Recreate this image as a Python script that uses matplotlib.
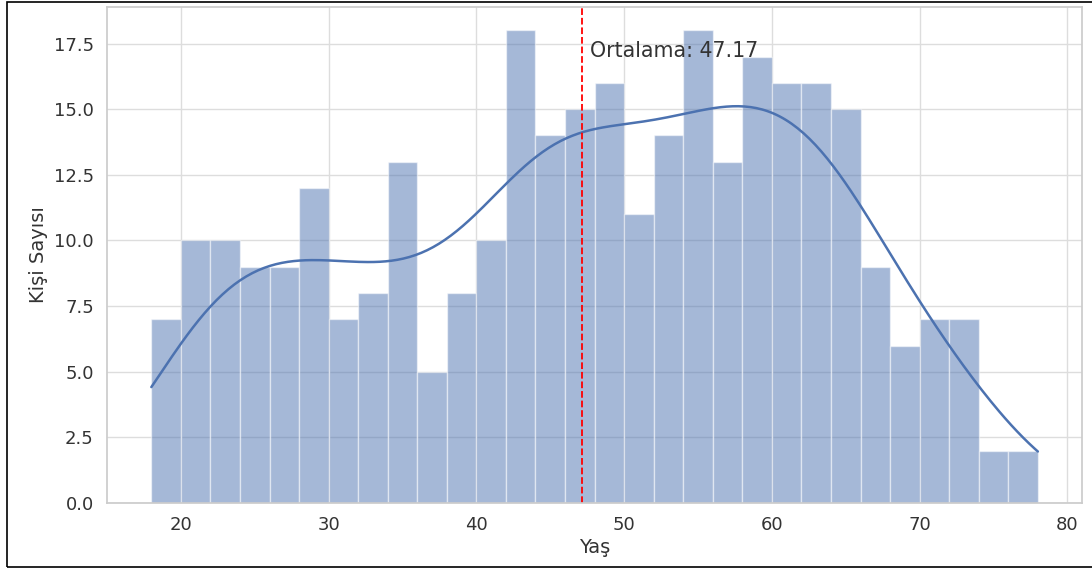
import numpy as np
import matplotlib.pyplot as plt
import seaborn as sns
from matplotlib.patches import Rectangle

# histogram of ages, bin width 2 from 18 to 78
bin_edges = np.arange(18, 80, 2)
counts = [7, 10, 10, 9, 9, 12, 7, 8, 13, 5,
          8, 10, 18, 14, 15, 16, 11, 14, 18, 13,
          17, 16, 16, 15, 9, 6, 7, 7, 2, 2]
mean_age = 47.17

sns.set_theme(style="whitegrid")
plt.rcParams['font.family'] = ['DejaVu Sans']

centers = bin_edges[:-1] + 1
ages = np.repeat(centers, counts)

fig, ax = plt.subplots(figsize=(10.92, 5.70), dpi=100)
fig.subplots_adjust(left=0.098, right=0.991, top=0.988, bottom=0.1175)

ax.bar(bin_edges[:-1], counts, width=2, align="edge",
       color="#4c72b0", alpha=0.5, edgecolor="white", linewidth=1.0)

# kde curve (gaussian, scott bandwidth) scaled to counts
bw = 0.96 * ages.std(ddof=1) * len(ages) ** (-1 / 5)
xs = np.linspace(18, 78, 300)
dens = np.exp(-0.5 * ((xs[:, None] - ages[None, :]) / bw) ** 2).sum(axis=1)
dens = dens / (len(ages) * bw * np.sqrt(2 * np.pi))
ax.plot(xs, dens * len(ages) * 2, color="#4c72b0", lw=1.8)

ax.axvline(mean_age, color="red", linestyle="--", lw=1.3)
ax.text(mean_age + 0.5, 17, f"Ortalama: {mean_age:.2f}", fontsize=14.8, color="#333333")

ax.set_xlabel("Yaş", fontsize=14, color="#333333", labelpad=3)
ax.set_ylabel("Kişi Sayısı", fontsize=14, color="#333333")
ax.tick_params(labelsize=13, colors="#333333")
ax.grid(color="#dddddd")
for sp in ax.spines.values():
    sp.set_color("#cccccc")
ax.set_xlim(15, 81)
ax.set_ylim(0, 18.9)

fig.patches.append(Rectangle((7 / 1092, 3 / 570), 1.2, 1 - 5 / 570,
                             transform=fig.transFigure, fill=False,
                             edgecolor="black", lw=1.2))

fig.savefig("out.png", dpi=100)
